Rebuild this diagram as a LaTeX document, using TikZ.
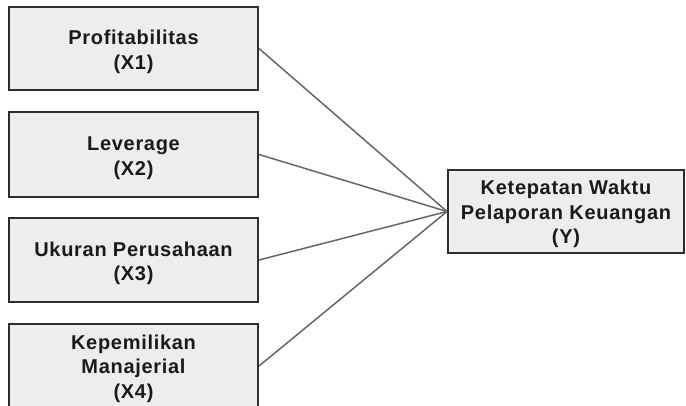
\documentclass[tikz,border=0pt]{standalone}
\usepackage{fontspec}
\setmainfont{Liberation Sans}[LetterSpace=3.5]
\definecolor{boxfill}{HTML}{EDEDED}
\definecolor{boxline}{HTML}{2E2E2E}
\definecolor{conn}{HTML}{666666}
\definecolor{txt}{HTML}{1A1A1A}
\begin{document}
\begin{tikzpicture}[x=1pt,y=1pt,
  varbox/.style={draw=boxline, fill=boxfill, line width=2pt, inner sep=0pt},
  vartext/.style={align=center, inner sep=0pt, text=txt,
    font=\fontsize{20}{24.5}\selectfont\bfseries},
  link/.style={draw=conn, line width=1.5pt}]
\useasboundingbox (0,0) rectangle (686,-405);
\begin{scope}
\clip (0,0) rectangle (686,-405);
\node[varbox, minimum width=249pt, minimum height=83pt] (x1) at (133.5,-48.5) {};
\node[varbox, minimum width=249pt, minimum height=85pt] (x2) at (133.5,-154.5) {};
\node[varbox, minimum width=249pt, minimum height=84pt] (x3) at (133.5,-260) {};
\node[varbox, minimum width=249pt, minimum height=84pt] (x4) at (133.5,-366) {};
\node[varbox, minimum width=236pt, minimum height=83pt] (y) at (566,-211.5) {};
\node[vartext] (x1t) at ([yshift=-3.5pt]x1.center) {Profitabilitas\\(X1)};
\node[vartext] (x2t) at ([yshift=-3.5pt]x2.center) {Leverage\\(X2)};
\node[vartext] (x3t) at ([yshift=-3.5pt]x3.center) {Ukuran Perusahaan\\(X3)};
\node[vartext] (x4t) at ([yshift=-2.5pt]x4.center) {Kepemilikan\\Manajerial\\(X4)};
\node[vartext] (yt) at ([yshift=-2.5pt]y.center) {Ketepatan Waktu\\Pelaporan Keuangan\\(Y)};
\draw[link] (x1.east) -- (y.west);
\draw[link] (x2.east) -- (y.west);
\draw[link] (x3.east) -- (y.west);
\draw[link] (x4.east) -- (y.west);
\end{scope}
\end{tikzpicture}
\end{document}
